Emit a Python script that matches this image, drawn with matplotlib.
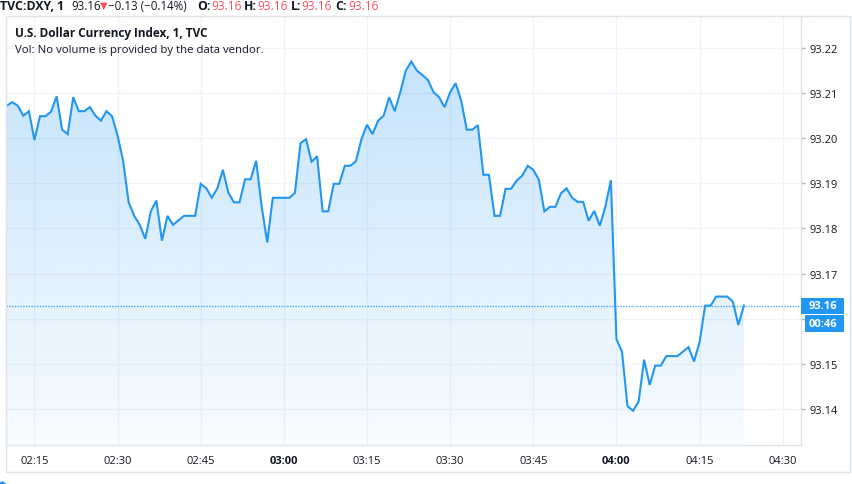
import numpy as np
import matplotlib
matplotlib.use("Agg")
import matplotlib.pyplot as plt
from matplotlib.patches import Rectangle, Ellipse
import matplotlib.transforms as mtransforms

# ---------------- data (1-minute closes, starting 02:10) ----------------
prices = [
    93.2072, 93.2080, 93.2072, 93.2050, 93.2060, 93.1996, 93.2049, 93.2049, 93.2059, 93.2093,
    93.2019, 93.2009, 93.2091, 93.2060, 93.2060, 93.2069, 93.2050, 93.2039, 93.2060, 93.2049,
    93.2006, 93.1950, 93.1858, 93.1828, 93.1808, 93.1777, 93.1838, 93.1862, 93.1773, 93.1828,
    93.1808, 93.1818, 93.1828, 93.1828, 93.1828, 93.1899, 93.1889, 93.1868, 93.1889, 93.1930,
    93.1879, 93.1858, 93.1858, 93.1909, 93.1909, 93.1950, 93.1848, 93.1769, 93.1868, 93.1868,
    93.1868, 93.1868, 93.1879, 93.1989, 93.1998, 93.1948, 93.1960, 93.1838, 93.1838, 93.1899,
    93.1899, 93.1939, 93.1939, 93.1949, 93.1998, 93.2030, 93.2009, 93.2039, 93.2050, 93.2091,
    93.2060, 93.2102, 93.2150, 93.2170, 93.2150, 93.2140, 93.2129, 93.2102, 93.2091, 93.2069,
    93.2102, 93.2122, 93.2083, 93.2019, 93.2019, 93.2029, 93.1919, 93.1919, 93.1828, 93.1828,
    93.1888, 93.1888, 93.1906, 93.1917, 93.1939, 93.1930, 93.1908, 93.1838, 93.1848, 93.1848,
    93.1878, 93.1889, 93.1868, 93.1859, 93.1859, 93.1817, 93.1839, 93.1806, 93.1848, 93.1907,
    93.1555, 93.1527, 93.1406, 93.1396, 93.1416, 93.1509, 93.1453, 93.1496, 93.1496, 93.1517,
    93.1517, 93.1517, 93.1527, 93.1537, 93.1505, 93.1548, 93.1629, 93.1629, 93.1649, 93.1649,
    93.1649, 93.1638, 93.1586, 93.1629,
]
time_tick_minutes = [5, 20, 35, 50, 65, 80, 95, 110, 125, 140]   # minutes after 02:10
time_labels = ["02:15", "02:30", "02:45", "03:00", "03:15", "03:30", "03:45", "04:00", "04:15", "04:30"]
bold_time_labels = ["03:00", "04:00"]
price_ticks = [93.14, 93.15, 93.16, 93.17, 93.18, 93.19, 93.20, 93.21, 93.22]
price_labels = ["93.14", "93.15", "93.16", "93.17", "93.18", "93.19", "93.20", "93.21", "93.22"]
last_label = "93.16"
countdown_label = "00:46"
symbol_label = "TVC:DXY, 1"
change_label = "\u22120.13 (\u22120.14%)"
ohlc_names = ["O:", "H:", "L:", "C:"]
ohlc_values = ["93.16", "93.16", "93.16", "93.16"]
title_label = "U.S. Dollar Currency Index, 1, TVC"
vol_label = "Vol: No volume is provided by the data vendor."

# ---------------- style ----------------
BLUE = "#2196f3"
RED = "#f7525f"
TEXT = "#131722"
GRID = "#f0f3fa"
BORDER = "#e0e3eb"
FONT = ["Open Sans", "DejaVu Sans"]
plt.rcParams["font.family"] = FONT

W, H = 852, 485
fig = plt.figure(figsize=(W / 100, H / 100), dpi=100)
fig.patch.set_facecolor("white")

def fx(px):
    return px / W

def fy(py):
    return 1 - py / H

PL, PR, PT, PB = 6, 801, 17, 446
ax = fig.add_axes([fx(PL), fy(PB), fx(PR) - fx(PL), fy(PT) - fy(PB)])
YMIN, YMAX = 93.1320, 93.2271
XMIN, XMAX = -0.13, 143.3

x = np.arange(len(prices))
y = np.array(prices)

# gradient area
poly = ax.fill_between(x, y, YMIN, color="none", lw=0)
n = 256
rgba = np.zeros((n, 1, 4))
rgba[..., 0] = 33 / 255
rgba[..., 1] = 150 / 255
rgba[..., 2] = 243 / 255
rgba[:, 0, 3] = np.linspace(0.03, 0.26, n)
im = ax.imshow(rgba, extent=[x[0], x[-1], YMIN, y.max()], origin="lower",
               aspect="auto", zorder=1, interpolation="bilinear")
im.set_clip_path(poly.get_paths()[0], transform=ax.transData)

ax.plot(x, y, color=BLUE, lw=1.5, zorder=3, solid_joinstyle="miter")
ax.axhline(y[-1], color=BLUE, lw=1, ls=(0, (1, 1)), alpha=0.8, zorder=2)

ax.set_xlim(XMIN, XMAX)
ax.set_ylim(YMIN, YMAX)

ax.set_xticks(time_tick_minutes)
ax.set_xticklabels(time_labels)
for lbl in ax.get_xticklabels():
    if lbl.get_text() in bold_time_labels:
        lbl.set_fontweight("bold")
ax.set_yticks(price_ticks)
ax.set_yticklabels(price_labels)
ax.yaxis.tick_right()
ax.tick_params(axis="x", length=0, pad=7, labelsize=8, labelcolor=TEXT)
ax.tick_params(axis="y", length=3, width=1, color="#b2b5be", pad=3, labelsize=8, labelcolor=TEXT)
last = y[-1]
# the tick label hidden under the last-price box
for tk, lbl in zip(price_ticks, ax.get_yticklabels()):
    if abs(tk - last) < 0.004:
        lbl.set_visible(False)
ax.grid(True, color=GRID, lw=1)
ax.set_axisbelow(True)
for s in ["left", "top"]:
    ax.spines[s].set_color(GRID)
for s in ["right", "bottom"]:
    ax.spines[s].set_color(BORDER)
    ax.spines[s].set_linewidth(1)

# outer panel border
fig.add_artist(Rectangle((fx(6), fy(473)), fx(850) - fx(6), fy(17) - fy(473),
                         transform=fig.transFigure, fill=False, ec=BORDER, lw=1, zorder=0.5))

# last price and countdown boxes
blend = mtransforms.blended_transform_factory(fig.transFigure, ax.transData)
dpp = (YMAX - YMIN) / (PB - PT)
fig.add_artist(Rectangle((fx(801), last - 8 * dpp), fx(844) - fx(801), 16 * dpp,
                         transform=blend, fc=BLUE, ec="none", zorder=5))
fig.text(fx(809), last, last_label, transform=blend, ha="left", va="center",
         color="white", fontsize=8, fontweight="bold", zorder=6)
fig.add_artist(Rectangle((fx(805), last - 26 * dpp), fx(844) - fx(805), 17 * dpp,
                         transform=blend, fc=BLUE, ec="none", zorder=5))
fig.text(fx(809), last - 17.5 * dpp, countdown_label, transform=blend, ha="left", va="center",
         color="white", fontsize=8, fontweight="bold", zorder=6)

# header line
hy = fy(6)
HS = 8.8
VS = 8.6
fig.text(fx(0), hy, symbol_label, ha="left", va="center", fontsize=HS, fontweight="bold", color=TEXT)
fig.text(fx(71), hy, ohlc_values[3], ha="left", va="center", fontsize=8.3, color=TEXT)
fig.text(fx(100), hy, "\u25bc", ha="left", va="center", fontsize=7, color=RED,
         family=["DejaVu Sans"])
fig.text(fx(108), hy, change_label, ha="left", va="center", fontsize=8.3, color=TEXT)
name_x = [197, 244, 291, 335]
val_x = [211, 257, 301, 348]
for nm, vl, nx, vx in zip(ohlc_names, ohlc_values, name_x, val_x):
    fig.text(fx(nx), hy, nm, ha="left", va="center", fontsize=HS, fontweight="bold", color=TEXT)
    fig.text(fx(vx), hy, vl, ha="left", va="center", fontsize=VS, color=RED)

# legend texts
fig.text(fx(15), fy(34), title_label, ha="left", va="center", fontsize=8.5,
         fontweight="bold", color=TEXT)
fig.text(fx(15), fy(51), vol_label, ha="left", va="center", fontsize=8.2, color=TEXT)

# small blue marker at bottom-left corner
fig.add_artist(Ellipse((fx(2), fy(487)), 9 / W, 9 / H, transform=fig.transFigure,
                       fc=BLUE, ec="none", zorder=5))

fig.savefig("out.png", dpi=100, facecolor="white")
